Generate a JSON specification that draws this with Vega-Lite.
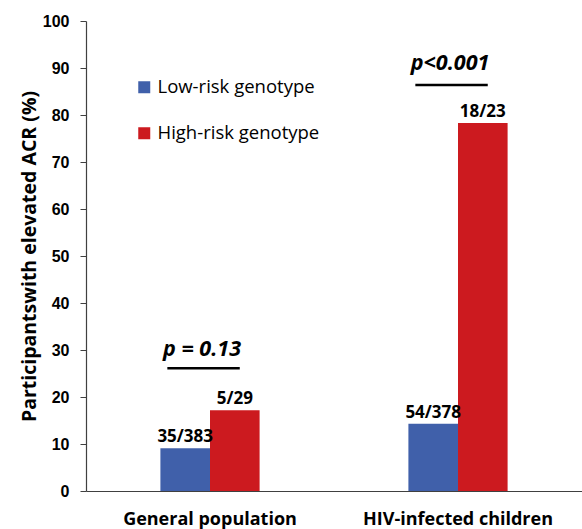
{
  "$schema": "https://vega.github.io/schema/vega-lite/v6.json",
  "width": 496,
  "height": 470,
  "autosize": {"type": "none"},
  "padding": {"left": 86, "top": 21, "right": 0, "bottom": 38},
  "background": "white",
  "config": {"view": {"stroke": null}},
  "layer": [
    {
      "data": {"values": [
        {"group": "General population", "genotype": "Low-risk genotype", "pct": 9.1, "label": "35/383"},
        {"group": "General population", "genotype": "High-risk genotype", "pct": 17.2, "label": "5/29"},
        {"group": "HIV-infected children", "genotype": "Low-risk genotype", "pct": 14.3, "label": "54/378"},
        {"group": "HIV-infected children", "genotype": "High-risk genotype", "pct": 78.3, "label": "18/23"}
      ]},
      "layer": [
        {
          "mark": {"type": "bar"},
          "encoding": {
            "x": {"field": "group", "type": "nominal", "sort": ["General population", "HIV-infected children"],
              "scale": {"paddingInner": 0.6, "paddingOuter": 0.3},
              "axis": {"title": null, "labelAngle": 0, "ticks": false, "domainColor": "#404040", "domainWidth": 1.2, "labelLimit": 0,
                "labelFont": "Open Sans", "labelFontWeight": "bold", "labelFontSize": 18, "labelColor": "black", "labelPadding": 19}},
            "xOffset": {"field": "genotype", "type": "nominal", "sort": ["Low-risk genotype", "High-risk genotype"], "scale": {"paddingInner": 0, "paddingOuter": 0}},
            "y": {"field": "pct", "type": "quantitative", "scale": {"domain": [0, 100], "nice": false},
              "axis": {"title": "Participantswith  elevated ACR (%)", "values": [0,10,20,30,40,50,60,70,80,90,100], "grid": false,
                "domainColor": "#404040", "domainWidth": 1.2, "tickColor": "#404040", "tickSize": 6, "labelPadding": 11,
                "labelFont": "Liberation Sans", "labelFontWeight": "bold", "labelFontSize": 16, "labelColor": "black",
                "titleFont": "Open Sans", "titleFontWeight": "bold", "titleFontSize": 19.5, "titleColor": "black", "titlePadding": 3}},
            "color": {"field": "genotype", "type": "nominal",
              "scale": {"domain": ["Low-risk genotype", "High-risk genotype"], "range": ["#4060AA", "#CC1A1F"]},
              "legend": {"title": null, "orient": "none", "legendX": 49, "legendY": 57, "padding": 0, "labelLimit": 0,
                "symbolType": "square", "symbolSize": 144, "symbolStrokeWidth": 0, "rowPadding": 27,
                "labelFont": "Open Sans", "labelFontSize": 18.5, "labelColor": "black", "labelOffset": 4}}
          }
        },
        {
          "mark": {"type": "text", "baseline": "alphabetic", "dy": -6, "font": "Open Sans", "fontWeight": "bold", "fontSize": 17, "color": "black"},
          "encoding": {
            "x": {"field": "group", "type": "nominal", "sort": ["General population", "HIV-infected children"]},
            "xOffset": {"field": "genotype", "type": "nominal", "sort": ["Low-risk genotype", "High-risk genotype"]},
            "y": {"field": "pct", "type": "quantitative"},
            "text": {"field": "label"}
          }
        }
      ]
    },
    {
      "data": {"values": [
        {"group": "General population", "ptext": "p = 0.13", "lineY": 26.1, "textY": 28.7},
        {"group": "HIV-infected children", "ptext": "p<0.001", "lineY": 86.4, "textY": 89.6}
      ]},
      "layer": [
        {
          "mark": {"type": "rule", "strokeWidth": 2.5, "color": "black"},
          "encoding": {
            "x": {"field": "group", "type": "nominal", "bandPosition": 0.07},
            "x2": {"field": "group", "bandPosition": 0.8},
            "y": {"field": "lineY", "type": "quantitative"}
          }
        },
        {
          "mark": {"type": "text", "baseline": "alphabetic", "font": "Open Sans", "fontWeight": "bold", "fontStyle": "italic", "fontSize": 21.5, "color": "black"},
          "encoding": {
            "x": {"field": "group", "type": "nominal", "bandPosition": 0.42},
            "y": {"field": "textY", "type": "quantitative"},
            "text": {"field": "ptext"}
          }
        }
      ]
    }
  ]
}
